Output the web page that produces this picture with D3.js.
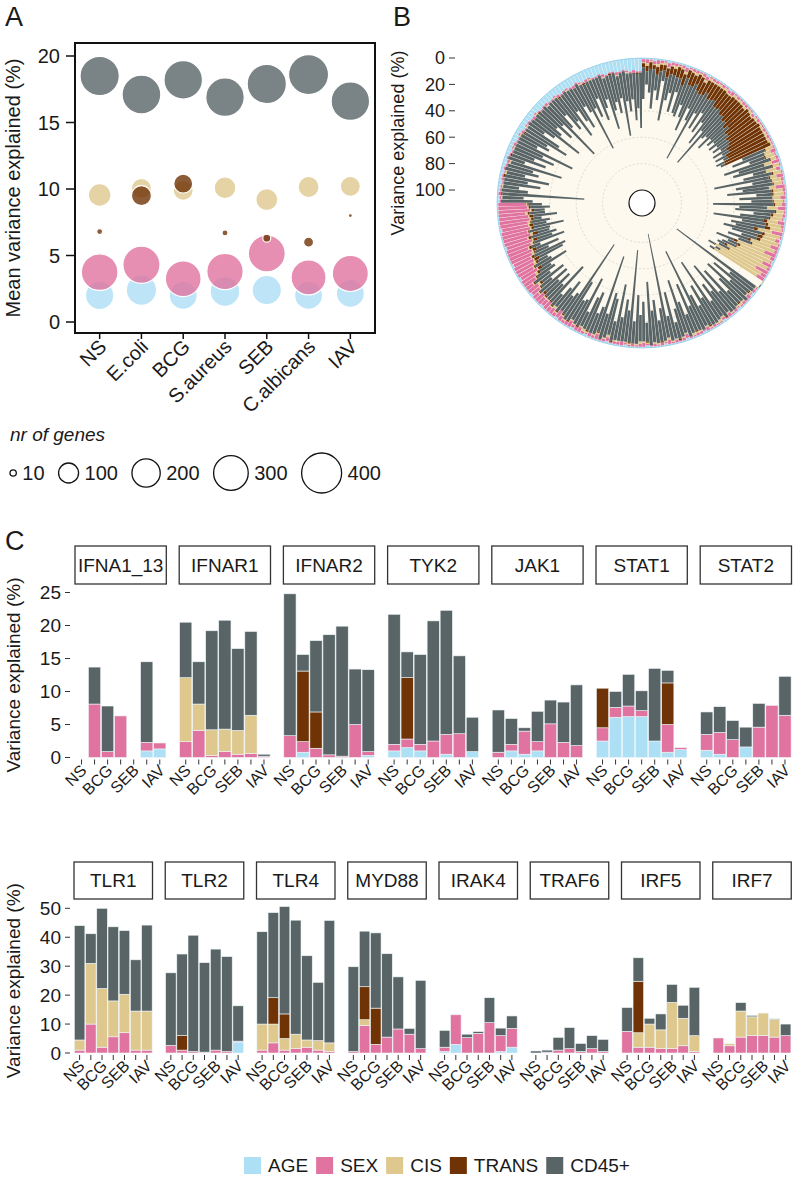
<!DOCTYPE html>
<html><head><meta charset="utf-8">
<script src="https://cdn.jsdelivr.net/npm/d3@7/dist/d3.min.js"></script>
<style>
html,body{margin:0;padding:0;background:#fff;}
svg text{font-family:"Liberation Sans",Arial,Helvetica,sans-serif;fill:#1a1a1a;}
</style></head>
<body><svg id="chart" width="802" height="1179"></svg>
<script>
// ---------------- shared categories ----------------
const stimuli = ["NS","E.coli","BCG","S.aureus","SEB","C.albicans","IAV"];
const factors = ["AGE","SEX","CIS","TRANS","CD45+"];
const factorColors = ["#addff5","#e0739f","#dfc88e","#6f3306","#596466"];

// ---------------- Panel A: mean variance explained & number of genes ----------------
const meanAGE   = [2.0, 2.4, 2.0, 2.3, 2.4, 2.0, 2.15];
const meanSEX   = [3.75, 4.3, 3.25, 3.8, 5.15, 3.35, 3.65];
const meanCIS   = [9.55, 10.05, 9.9, 10.1, 9.2, 10.15, 10.2];
const meanTRANS = [6.8, 9.5, 10.4, 6.7, 6.3, 6.0, 8.0];
const meanCD45  = [18.5, 17.1, 18.2, 16.9, 17.9, 18.6, 16.6];
const nAGE   = [200, 230, 195, 220, 215, 195, 195];
const nSEX   = [335, 345, 320, 330, 340, 305, 325];
const nCIS   = [128, 100, 100, 117, 120, 110, 100];
const nTRANS = [9, 100, 90, 9, 16, 25, 4];
const nCD45  = [385, 375, 370, 370, 385, 400, 370];
const ticksA = [0, 5, 10, 15, 20];
const geneLegend = [10, 100, 200, 300, 400];

// ---------------- Panel B: circular per-gene variance (clockwise from 12 o'clock) ----------------
const circAGE = [
 1,1,1,2,1,1,1,2,1,1,1,1,2,1,1,1,1,1,2,1,1,1,1,1,1,2,1,1,1,1,1,1,1,1,2,1,1,1,1,1,1,1,1,1,
 1,1,2,1,1,1,2,1,1,1,2,1,1,1,1,2,1,1,1,1,2,1,1,1,1,1,2,1,1,1,1,1,2,1,1,1,1,1,0,0,
 1,1,2,1,1,1,1,2,1,1,1,1,2,1,1,1,1,1,2,1,1,1,1,2,1,1,1,1,1,2,1,1,1,1,2,1,1,1,1,1,2,1,1,1,1,2,1,1,1,1,1,2,1,1,1,2,1,1,1,1,2,1,1,1,1,2,1,1,1,2,1,1,
 1,1,2,1,1,1,2,1,1,1,1,2,1,1,1,1,2,1,1,1,1,1,1,1,
 2,2,1,2,2,3,2,2,3,2,3,3,2,3,4,3,3,4,4,3,4,5,4,4,5,5,4,5,6,5,5,6,6,5,6,7,6,6,7,7,6,7,8,7,7,8,8,7,8,9,8,8,9,9,8,9,10,9,10,10];
const circSEX = [
 2,3,1,2,3,2,1,3,2,2,1,2,3,1,2,2,1,2,3,1,2,2,1,2,1,2,3,1,2,1,2,2,1,1,2,1,2,1,1,2,1,2,1,1,
 1,4,1,2,6,1,3,1,5,2,1,7,2,1,4,1,3,6,1,2,1,5,2,1,8,1,3,1,6,2,9,3,1,7,2,10,4,6,0,0,
 1,2,1,3,1,2,1,1,2,1,3,1,2,1,1,2,1,3,1,2,2,1,1,3,2,1,2,1,3,1,2,1,2,1,1,3,2,1,2,1,1,3,2,2,1,3,2,1,4,2,3,1,2,4,3,2,5,3,2,4,6,3,5,4,7,5,6,8,5,7,9,6,
 10,12,14,13,15,16,14,17,18,16,19,20,18,21,19,22,20,21,23,22,20,24,22,21,
 1,1,2,1,1,1,2,1,1,1,1,2,1,1,1,1,2,1,1,1,2,1,1,1,1,2,1,1,1,1,2,1,1,1,2,1,1,1,1,2,1,1,1,2,1,1,1,1,2,1,1,1,2,1,1,1,1,2,1,1];
const circCIS = [
 1,2,1,1,2,1,2,1,1,2,1,1,2,1,1,2,1,1,2,2,1,1,2,1,2,1,1,2,1,2,1,2,1,2,1,2,1,1,2,1,2,1,2,1,
 6,5,7,4,6,5,8,6,5,7,6,5,7,8,6,7,5,8,6,7,9,8,10,9,11,12,10,14,16,18,22,25,28,30,32,35,36,38,1,0,
 1,0,1,1,0,1,2,1,0,1,1,0,1,2,1,0,1,1,0,1,1,2,0,1,1,0,1,1,2,1,0,1,1,0,1,1,2,1,0,1,1,0,1,1,0,2,1,0,1,1,0,1,2,1,0,1,1,0,1,1,0,1,2,1,0,1,1,0,1,1,2,1,
 1,2,1,1,2,1,1,2,1,1,2,1,1,2,1,1,1,2,1,1,2,1,1,1,
 0,1,0,0,1,0,0,0,1,0,0,1,0,0,0,1,0,0,0,1,0,0,1,0,0,0,1,0,0,0,1,0,0,1,0,0,0,1,0,0,0,1,0,0,1,0,0,0,1,0,0,0,1,0,0,1,0,0,0,0];
const circTRANS = [
 3,4,5,3,6,5,4,7,6,5,8,7,9,6,10,9,8,11,10,12,9,13,12,11,15,14,13,17,16,19,18,21,20,24,22,26,25,28,30,29,33,32,36,38,
 1,0,1,1,0,1,0,1,1,0,1,0,1,1,0,1,1,0,1,2,1,3,2,4,3,2,4,3,2,1,3,2,1,2,1,1,0,1,0,0,
 0,0,1,0,0,0,1,0,0,0,0,1,0,0,0,0,1,0,0,0,1,0,0,0,0,1,0,0,0,0,1,0,0,0,1,0,0,0,0,1,0,0,0,0,1,0,0,0,1,0,0,1,0,0,1,0,0,1,0,1,0,1,0,1,1,0,1,2,1,1,2,1,
 1,2,3,1,2,4,2,1,3,2,1,3,2,4,1,2,3,1,2,3,1,2,1,1,
 0,0,1,0,0,0,0,1,0,0,0,0,0,1,0,0,0,0,0,0,1,0,0,0,0,0,0,1,0,0,0,0,0,0,1,0,0,0,0,0,0,0,1,0,0,0,0,0,0,0,1,0,0,0,0,0,0,0,1,0];
const circCD45 = [
 24,10,18,30,12,22,8,33,20,14,27,11,22,31,16,25,38,15,22,55,18,26,12,29,15,33,21,48,23,17,28,13,21,11,18,9,15,7,12,6,9,4,7,3,
 18,26,12,36,20,30,10,22,42,15,28,20,34,12,25,16,46,21,30,13,22,38,18,26,14,30,20,12,16,10,14,8,11,6,8,5,4,3,0,1,
 74,22,34,16,40,24,12,36,18,45,20,30,14,52,22,34,17,26,66,20,38,15,28,42,22,13,36,19,80,25,16,33,24,48,14,30,20,37,17,70,24,32,18,43,15,28,35,20,60,22,16,31,26,12,40,21,17,34,68,19,14,28,18,11,35,16,24,13,26,10,20,14,
 16,10,22,14,8,20,26,11,18,7,24,12,20,9,16,23,10,14,6,18,12,8,15,10,
 24,16,62,20,12,28,18,34,14,26,20,40,13,27,17,32,22,46,15,24,19,36,28,14,21,42,24,17,30,20,50,25,15,30,22,38,18,27,34,16,24,54,20,29,15,33,24,19,40,27,21,31,17,48,23,29,20,36,26,42];
const ticksB = [0, 20, 40, 60, 80, 100];

// ---------------- Panel C: per-gene bars (rows = genes, cols = stimuli) ----------------
const genesTop = ["IFNA1_13","IFNAR1","IFNAR2","TYK2","JAK1","STAT1","STAT2"];
const genesBottom = ["TLR1","TLR2","TLR4","MYD88","IRAK4","TRAF6","IRF5","IRF7"];
const ageC = [
 [0,0,0,0,0,1.0,1.3],[0,0,0,0,0,0,0],[0,0.8,0,0,0,0,0.3],[1.0,1.5,1.0,0,0.5,0,0.9],
 [0,1.0,0.5,1.0,0,0,0],[2.5,6.1,6.2,6.2,2.5,0.8,1.2],[1.1,0.5,0,1.6,0,0,0],
 [0,0,0,0,0,0,0],[0,0,0,0,0,0,3.8],[0,0,0,0,0,0,0],[0,0,0,0,0,0,0],
 [0.5,3.0,0,0,0,0.5,2.0],[0,0,0,0,0,0,0],[0,0,0,0,0,0,0],[0,0,0,0,0,0,0]];
const sexC = [
 [0,8.1,0.9,6.3,0,1.3,0.9],[2.4,4.1,0.3,0.9,0.5,0.6,0.2],[3.3,1.6,1.4,0.4,0.2,5.0,0.6],[1.0,1.3,1.0,2.5,3.0,3.6,0],
 [0.8,1.0,3.5,1.4,5.1,2.3,1.8],[2.0,1.5,1.6,0.9,0,4.2,0.3],[2.4,3.3,2.7,0,4.6,7.9,6.4],
 [1.0,10.0,2.0,5.6,7.0,1.0,1.0],[2.6,1.0,0.5,0.3,1.0,0.5,0.3],[1.0,3.5,1.0,1.5,2.0,1.0,0.5],[0.5,9.5,3.0,5.5,8.3,6.5,1.5],
 [1.5,10.2,5.3,6.8,10.5,5.5,6.5],[0,0.3,1.0,1.5,0.5,1.5,0.5],[7.5,2.0,2.0,1.5,1.5,2.5,0.5],[5.2,2.5,5.5,6.0,6.0,5.5,6.0]];
const cisC = [
 [0,0,0,0,0,0,0],[9.7,4.0,3.9,3.4,3.6,5.8,0],[0,0,0,0,0,0,0],[0,0,0,0,0,0,0],
 [0,0,0,0,0,0,0],[0,0,0,0,0,0,0],[0,0,0,0,0,0,0],
 [3.5,21.0,20.3,12.4,13.3,13.5,13.5],[0,0,0,0,0,0,0],[9.0,6.5,4.0,5.0,2.5,3.3,3.0],[0,2.0,0,0,0,0,0],
 [0,0,0,0,0,0,0],[0,0,0,0,0,0,0],[0,5.0,8.0,6.5,16.0,9.5,5.5],[0,0.7,9.0,6.5,7.8,6.0,0]];
const transC = [
 [0,0,0,0,0,0,0],[0,0,0,0,0,0,0],[0,10.7,5.5,0,0,0,0],[0,9.3,0,0,0,0,0],
 [0,0,0,0,0,0,0],[6.0,0,0,0,0,6.3,0],[0,0,0,0,0,0,0],
 [0,0,0,0,0,0,0],[0,5.0,0,0,0,0,0],[0,9.1,8.5,0,0,0,0],[0,11.4,12.5,0,0,0,0],
 [0,0,0,0,0,0,0],[0,0,0,0,0,0,0],[0,17.8,0,0,0,0,0],[0,0,0,0,0,0,0]];
const cd45C = [
 [0,5.6,6.9,0,0,12.2,0],[8.4,6.4,15.0,16.5,12.4,12.7,0.3],[21.5,2.5,10.8,18.2,19.7,8.4,12.4],[19.7,3.9,13.6,18.2,18.8,11.8,5.2],
 [6.4,3.9,0.5,4.6,3.6,6.1,9.2],[0,2.4,4.8,3.0,11.0,1.9,0],[3.4,3.9,2.9,3.0,3.6,0,5.9],
 [39.5,10.2,27.7,25.6,22.0,17.7,29.7],[25.1,28.2,40.2,30.9,34.9,32.8,12.2],[31.9,29.4,37.1,39.4,29.1,20.1,42.3],[29.3,19.2,26.0,28.8,18.0,2.0,23.6],
 [5.8,0,1.2,0.6,8.6,2.6,4.3],[0.7,0.7,4.4,7.3,2.8,4.5,4.2],[8.2,8.1,2.0,5.5,6.2,4.5,16.7],[0,0,2.9,0.5,0,0.3,4.0]];
const xLabelsC = ["NS","","BCG","","SEB","","IAV"];
const ticksCTop = [0,5,10,15,20,25];
const ticksCBottom = [0,10,20,30,40,50];

// =====================================================================
const svg = d3.select("#chart");
const color = d3.scaleOrdinal().domain(factors).range(factorColors);

function panelLetter(t, x, y){
  svg.append("text").attr("x",x).attr("y",y).attr("font-size",27).text(t);
}

// ---------------- Panel A ----------------
(function(){
  const box = {l:75, r:375, t:43, b:333};
  const x = d3.scalePoint().domain(stimuli).range([box.l, box.r]).padding(0.59);
  const y = d3.scaleLinear().domain([0,20]).range([322,56]);
  const rS = d3.scaleSqrt().domain([0,400]).range([0,20]);
  const g = svg.append("g");
  const layers = [[meanAGE,nAGE],[meanSEX,nSEX],[meanCIS,nCIS],[meanTRANS,nTRANS],[meanCD45,nCD45]];
  layers.forEach((L,k)=>{
    g.append("g").selectAll("circle").data(stimuli).join("circle")
      .attr("cx", s=>x(s)).attr("cy",(s,i)=>y(L[0][i])).attr("r",(s,i)=>rS(L[1][i]))
      .attr("fill", color(factors[k])).attr("fill-opacity",0.8)
      .attr("stroke","#fff").attr("stroke-width",1.2);
  });
  svg.append("rect").attr("x",box.l).attr("y",box.t).attr("width",box.r-box.l).attr("height",box.b-box.t)
    .attr("fill","none").attr("stroke","#111").attr("stroke-width",2);
  ticksA.forEach(v=>{
    svg.append("line").attr("x1",66).attr("x2",box.l).attr("y1",y(v)).attr("y2",y(v)).attr("stroke","#111").attr("stroke-width",1.5);
    svg.append("text").attr("x",60).attr("y",y(v)).attr("dy","0.36em").attr("text-anchor","end").attr("font-size",20).text(v);
  });
  stimuli.forEach(s=>{
    svg.append("line").attr("x1",x(s)).attr("x2",x(s)).attr("y1",box.b).attr("y2",box.b+6).attr("stroke","#111").attr("stroke-width",1.5);
    svg.append("text").attr("text-anchor","end").attr("font-size",20)
      .attr("transform",`translate(${x(s)+8},${box.b+15}) rotate(-45)`).text(s);
  });
  svg.append("text").attr("text-anchor","middle").attr("font-size",20)
    .attr("transform",`translate(20,${(box.t+box.b)/2}) rotate(-90)`).text("Mean variance explained (%)");
  panelLetter("A",5,26);
  // legend: nr of genes
  svg.append("text").attr("x",10).attr("y",441).attr("font-size",19).attr("font-style","italic").text("nr of genes");
  let cursor = 10;
  const ly = 473;
  geneLegend.forEach(n=>{
    const r = rS(n);
    svg.append("circle").attr("cx",cursor+r).attr("cy",ly).attr("r",r).attr("fill","none").attr("stroke","#111").attr("stroke-width",1.3);
    const t = svg.append("text").attr("x",cursor+2*r+6).attr("y",ly).attr("dy","0.36em").attr("font-size",20).text(n);
    cursor = cursor + 2*r + 6 + t.node().getComputedTextLength() + 14;
  });
})();

// ---------------- Panel B ----------------
(function(){
  const cx = 642, cy = 203;
  const rows = circCD45.map((v,i)=>({i, "AGE":circAGE[i], "SEX":circSEX[i], "CIS":circCIS[i], "TRANS":circTRANS[i], "CD45+":v}));
  const series = d3.stack().keys(factors)(rows);
  const ang = d3.scaleBand().domain(d3.range(rows.length)).range([0, 2*Math.PI]).paddingInner(0.12);
  const r = d3.scaleLinear().domain([0,100]).range([145,13]);
  const g = svg.append("g").attr("transform",`translate(${cx},${cy})`);
  g.append("circle").attr("r",r(0)).attr("fill","#fdf9ef");
  [20,40,60,80].forEach(v=> g.append("circle").attr("r",r(v)).attr("fill","none")
     .attr("stroke","#d2ccc0").attr("stroke-width",0.7).attr("stroke-dasharray","2,2"));
  const arc = d3.arc();
  series.forEach((ser,k)=>{
    g.append("g").selectAll("path").data(ser.filter(d=>d[1]>d[0])).join("path")
      .attr("d", d=>arc({innerRadius:r(d[1]), outerRadius:r(d[0]), startAngle:ang(d.data.i), endAngle:ang(d.data.i)+ang.bandwidth()}))
      .attr("fill", factorColors[k]);
  });
  g.append("circle").attr("r",r(0)).attr("fill","none").attr("stroke","#93cde9").attr("stroke-width",0.8);
  g.append("circle").attr("r",r(100)).attr("fill","#fff").attr("stroke","#111").attr("stroke-width",1.2);
  ticksB.forEach(v=>{
    const yy = cy - r(v);
    svg.append("line").attr("x1",449).attr("x2",455).attr("y1",yy).attr("y2",yy).attr("stroke","#333").attr("stroke-width",1);
    svg.append("text").attr("x",445).attr("y",yy).attr("dy","0.36em").attr("text-anchor","end").attr("font-size",18).text(v);
  });
  svg.append("text").attr("text-anchor","middle").attr("font-size",18)
    .attr("transform",`translate(404,143) rotate(-90)`).text("Variance explained (%)");
  panelLetter("B",393,26);
})();

// ---------------- Panel C ----------------
function facetRow(genes, startIdx, cfg){
  const y = d3.scaleLinear().domain(cfg.domain).range([cfg.y0, cfg.yTop]);
  genes.forEach((gname,i)=>{
    const gi = startIdx + i;
    const fx = cfg.x0 + i*cfg.step;
    svg.append("rect").attr("x",fx).attr("y",cfg.stripTop).attr("width",cfg.w).attr("height",cfg.stripH)
      .attr("fill","#fff").attr("stroke","#333").attr("stroke-width",1.3);
    svg.append("text").attr("x",fx+cfg.w/2).attr("y",cfg.stripTop+cfg.stripH/2).attr("dy","0.36em")
      .attr("text-anchor","middle").attr("font-size",19).attr("fill","#2a2a2a").text(gname);
    const xb = d3.scaleBand().domain(stimuli).range([fx, fx+cfg.w]).paddingInner(0.06).paddingOuter(0.03);
    const rows = stimuli.map((s,j)=>({s, "AGE":ageC[gi][j], "SEX":sexC[gi][j], "CIS":cisC[gi][j], "TRANS":transC[gi][j], "CD45+":cd45C[gi][j]}));
    const series = d3.stack().keys(factors)(rows);
    series.forEach((ser,k)=>{
      svg.append("g").selectAll("rect").data(ser.filter(d=>d[1]>d[0])).join("rect")
        .attr("x", d=>xb(d.data.s)).attr("width", xb.bandwidth())
        .attr("y", d=>y(d[1])).attr("height", d=>y(d[0])-y(d[1]))
        .attr("fill", factorColors[k]).attr("stroke","#eef6f8").attr("stroke-width",0.6);
    });
    stimuli.forEach((s,j)=>{
      const c = xb(s)+xb.bandwidth()/2;
      svg.append("line").attr("x1",c).attr("x2",c).attr("y1",cfg.y0+2).attr("y2",cfg.y0+7).attr("stroke","#333").attr("stroke-width",1);
      if (xLabelsC[j]) svg.append("text").attr("text-anchor","end").attr("font-size",16)
        .attr("transform",`translate(${c+6},${cfg.y0+14}) rotate(-45)`).text(xLabelsC[j]);
    });
  });
  cfg.ticks.forEach(v=>{
    svg.append("line").attr("x1",65).attr("x2",70).attr("y1",y(v)).attr("y2",y(v)).attr("stroke","#333").attr("stroke-width",1);
    svg.append("text").attr("x",61).attr("y",y(v)).attr("dy","0.36em").attr("text-anchor","end").attr("font-size",19).text(v);
  });
  svg.append("text").attr("text-anchor","middle").attr("font-size",19)
    .attr("transform",`translate(20,${(cfg.y0+cfg.yTop)/2}) rotate(-90)`).text("Variance explained (%)");
}
facetRow(genesTop, 0, {x0:75, step:104.2, w:91.3, stripTop:546, stripH:38, domain:[0,25], y0:757.5, yTop:592.5, ticks:ticksCTop});
facetRow(genesBottom, genesTop.length, {x0:74, step:91.25, w:78.5, stripTop:862, stripH:37, domain:[0,50], y0:1053, yTop:908.3, ticks:ticksCBottom});
panelLetter("C",5,550);

// ---------------- Legend ----------------
(function(){
  let cursor = 244;
  const ly = 1157, s = 17;
  factors.forEach((f,k)=>{
    svg.append("rect").attr("x",cursor).attr("y",ly).attr("width",s).attr("height",s).attr("fill",factorColors[k]);
    const t = svg.append("text").attr("x",cursor+s+7).attr("y",ly+s/2).attr("dy","0.36em").attr("font-size",19).text(f);
    cursor = cursor + s + 7 + t.node().getComputedTextLength() + 8;
  });
})();
</script>
</body></html>
